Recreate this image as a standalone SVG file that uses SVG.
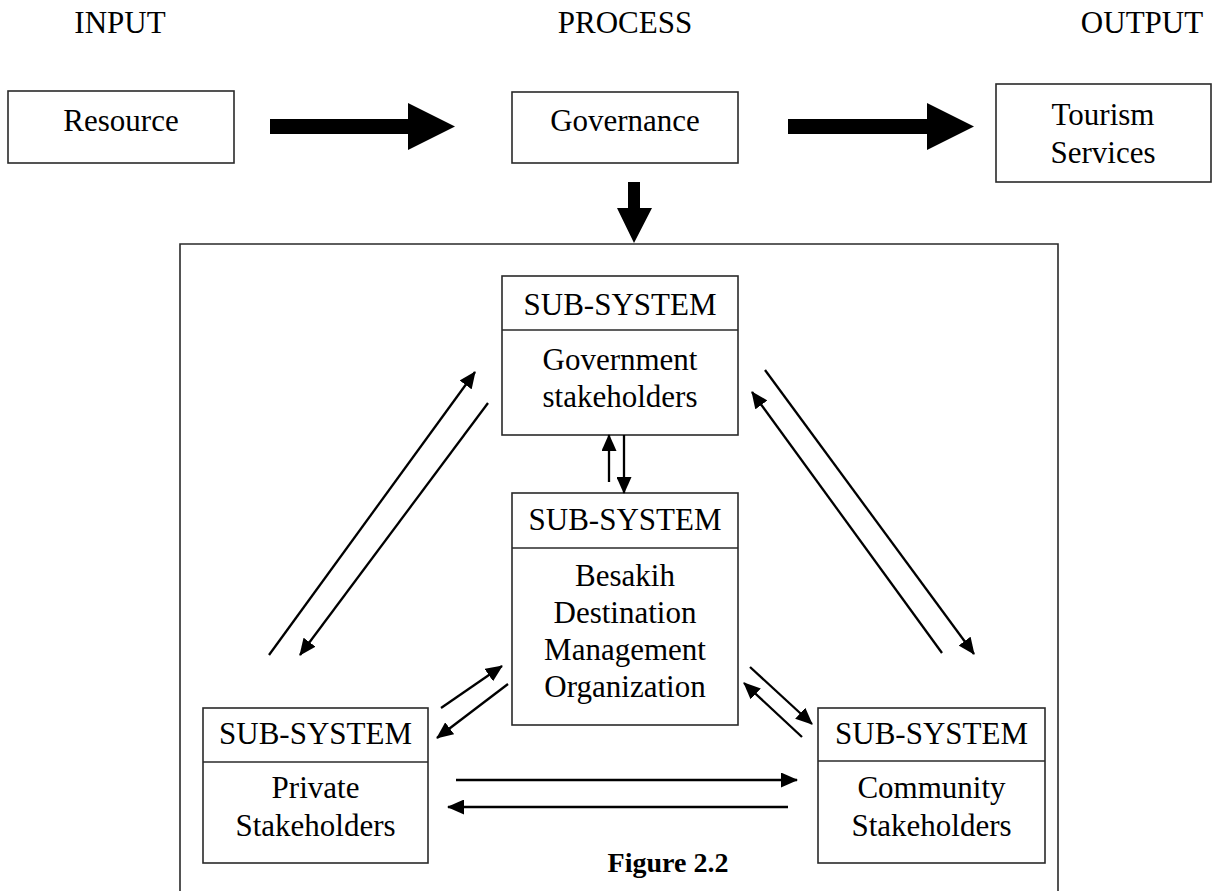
<svg xmlns="http://www.w3.org/2000/svg" width="1213" height="891" viewBox="0 0 1213 891">
<style>
text{font-family:"Liberation Serif","Times New Roman",serif;font-size:31px;fill:#000;text-anchor:middle}
.box{fill:#fff;stroke:#2a2a2a;stroke-width:1.6}
.div{stroke:#2a2a2a;stroke-width:1.6}
.frame{fill:none;stroke:#2a2a2a;stroke-width:1.6}
.conn{stroke:#000;stroke-width:2.3;fill:none;marker-end:url(#ah)}
.big{fill:#000}
.fig{font-weight:bold;font-size:28px}
</style>
<defs>
<marker id="ah" markerUnits="userSpaceOnUse" markerWidth="17" markerHeight="15" refX="16" refY="7.5" orient="auto"><path d="M0,0 L17,7.5 L0,15 z" fill="#000"/></marker>
</defs>
<rect x="0" y="0" width="1213" height="891" fill="#fff"/>
<g id="titles">
<text x="120" y="33">INPUT</text>
<text x="625" y="33">PROCESS</text>
<text x="1142" y="33">OUTPUT</text>
</g>
<g id="frame"><path class="frame" d="M180,900 V244 H1058 V900"/></g>
<g id="resource"><rect class="box" x="8" y="91" width="226" height="72"/><text x="121" y="131">Resource</text></g>
<g id="governance"><rect class="box" x="512" y="92" width="226" height="71"/><text x="625" y="131">Governance</text></g>
<g id="tourism"><rect class="box" x="996" y="84" width="215" height="98"/><text x="1103" y="125">Tourism</text><text x="1103" y="163">Services</text></g>
<g id="gov-stakeholders"><rect class="box" x="502" y="276" width="236" height="159"/><line class="div" x1="502" y1="330" x2="738" y2="330"/><text x="620" y="315">SUB-SYSTEM</text><text x="620" y="370">Government</text><text x="620" y="407">stakeholders</text></g>
<g id="besakih"><rect class="box" x="512" y="493" width="226" height="232"/><line class="div" x1="512" y1="548" x2="738" y2="548"/><text x="625" y="530">SUB-SYSTEM</text><text x="625" y="586">Besakih</text><text x="625" y="623">Destination</text><text x="625" y="660">Management</text><text x="625" y="697">Organization</text></g>
<g id="private"><rect class="box" x="203" y="708" width="225" height="155"/><line class="div" x1="203" y1="762" x2="428" y2="762"/><text x="315.5" y="744">SUB-SYSTEM</text><text x="315.5" y="798">Private</text><text x="315.5" y="836">Stakeholders</text></g>
<g id="community"><rect class="box" x="818" y="708" width="227" height="155"/><line class="div" x1="818" y1="761" x2="1045" y2="761"/><text x="931.5" y="744">SUB-SYSTEM</text><text x="931.5" y="798">Community</text><text x="931.5" y="836">Stakeholders</text></g>
<g id="connectors">
<polygon class="big" points="270,119 408,119 408,103 455,126.5 408,150 408,134 270,134"/>
<polygon class="big" points="788,119 927,119 927,103 974,126.5 927,150 927,134 788,134"/>
<polygon class="big" points="628,182 640,182 640,208 652,208 634,243 617,208 628,208"/>
<line class="conn" x1="609" y1="482" x2="609" y2="435"/>
<line class="conn" x1="624" y1="435" x2="624" y2="493"/>
<line class="conn" x1="269" y1="655" x2="475" y2="372"/>
<line class="conn" x1="488" y1="403" x2="300" y2="655"/>
<line class="conn" x1="765" y1="370" x2="974" y2="654"/>
<line class="conn" x1="942" y1="653" x2="752" y2="392"/>
<line class="conn" x1="441" y1="708" x2="502" y2="666"/>
<line class="conn" x1="508" y1="684" x2="437" y2="738"/>
<line class="conn" x1="750" y1="667" x2="812" y2="724"/>
<line class="conn" x1="802" y1="737" x2="744" y2="683"/>
<line class="conn" x1="456" y1="780" x2="797" y2="780"/>
<line class="conn" x1="788" y1="807" x2="448" y2="807"/>
</g>
<text class="fig" x="668" y="872">Figure 2.2</text>
</svg>
